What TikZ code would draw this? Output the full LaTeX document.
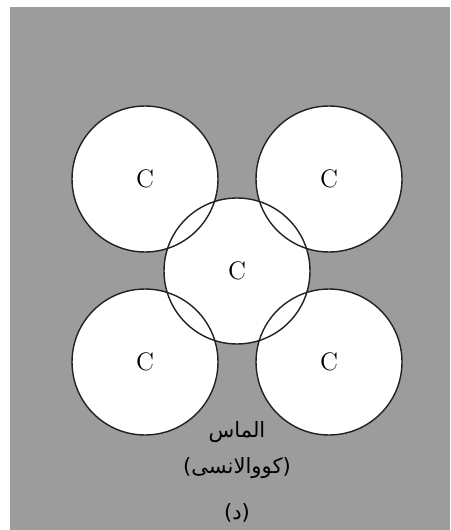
\documentclass[tikz,border=0pt]{standalone}
\usepackage{fontspec}
\newfontfamily\arabicfont[Script=Arabic]{DejaVu Sans}
\TeXXeTstate=1

\begin{document}
\begin{tikzpicture}[x=0.02cm, y=-0.02cm]

% Colori
\definecolor{colSfondo}{HTML}{9C9C9C}
\definecolor{colBordo}{HTML}{222222}

% Raggio degli atomi (1.46cm = 73 px)
\def\r{1.46cm}

\tikzset{
  atomo/.style={circle, fill=white, minimum size=2.92cm, inner sep=0pt, font=\Large},
  etichetta/.style={font=\large\arabicfont, inner sep=1pt}
}

\useasboundingbox (0,0) rectangle (450,530);

% Sfondo
\fill[colSfondo] (10,7) rectangle (450,530);

% Atomi di carbonio
\node[atomo] (tl) at (145,179) {C};
\node[atomo] (tr) at (329,179) {C};
\node[atomo] (bl) at (145,362) {C};
\node[atomo] (br) at (329,362) {C};
\node[atomo] (ce) at (237,271) {C};

% Contorni
\foreach \n in {tl,tr,bl,br,ce}
  \draw[colBordo, line width=0.8pt] (\n.center) circle[radius=\r];

% Didascalia
\node[etichetta] (nome) at (237,432) {\beginR الماس\endR};
\node[etichetta] (tipo) at (237,468) {\beginR (کووالانسی)\endR};
\node[etichetta] (lett) at (237,513) {\beginR (د)\endR};
\end{tikzpicture}
\end{document}
